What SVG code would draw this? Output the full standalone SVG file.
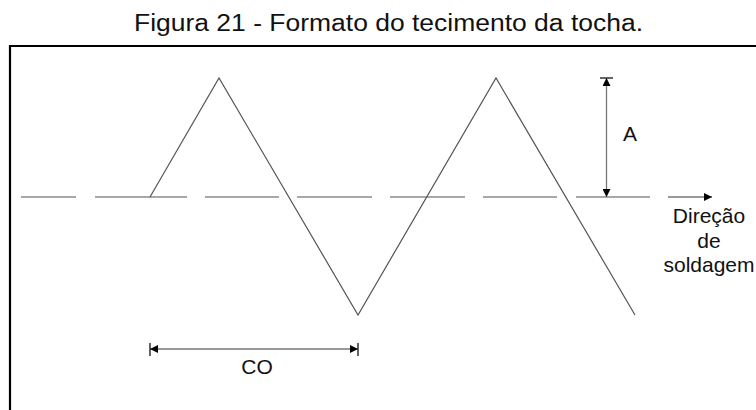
<svg xmlns="http://www.w3.org/2000/svg" width="756" height="410" viewBox="0 0 756 410">
<style>
.t{font-family:"Liberation Sans",Arial,sans-serif;fill:#111}
.lbl{font-size:21px}
.dash{stroke:#8c8c8c;stroke-width:1.4;fill:none}
.zig{stroke:#555;stroke-width:1.2;fill:none}
.dim{stroke:#777;stroke-width:1.3;fill:none}
.tick{stroke:#222;stroke-width:1.4}
</style>
<defs>
<marker id="ah" viewBox="0 0 10 10" refX="10" refY="5" markerWidth="9" markerHeight="8" markerUnits="userSpaceOnUse" orient="auto-start-reverse">
<path d="M0,0 L10,5 L0,10 Z" fill="#000"/>
</marker>
</defs>
<rect width="756" height="410" fill="#fff"/>
<text id="title" class="t" x="134" y="31" font-size="23" textLength="509" lengthAdjust="spacingAndGlyphs">Figura 21 - Formato do tecimento da tocha.</text>
<path id="frame" d="M10,411 V46 H757" stroke="#000" stroke-width="2.2" fill="none"/>
<g id="axis">
<path class="dash" d="M21,197H76 M95,197H187 M205,197H279 M297,197H372 M390,197H465 M483,197H557 M576,197H650"/>
</g>
<g id="zigzag">
<polyline class="zig" points="150,197 219,78 358,315 496,78 635,315"/>
</g>
<g id="connectors">
<line id="dir-arrow" class="dim" x1="668" y1="197" x2="712" y2="197" marker-end="url(#ah)"/>
<line id="A-arrow" class="dim" x1="606.5" y1="78" x2="606.5" y2="197" marker-start="url(#ah)" marker-end="url(#ah)"/>
<line class="tick" x1="600" y1="78" x2="613" y2="78"/>
<line id="CO-arrow" class="dim" x1="150" y1="349" x2="358" y2="349" marker-start="url(#ah)" marker-end="url(#ah)"/>
<line class="tick" x1="150" y1="343" x2="150" y2="356"/>
<line class="tick" x1="358" y1="343" x2="358" y2="356"/>
</g>
<g id="labels">
<text class="t lbl" x="623" y="141">A</text>
<text class="t lbl" x="257" y="374" text-anchor="middle">CO</text>
<text class="t lbl" text-anchor="middle"><tspan x="709" y="223">Direção</tspan><tspan x="709" y="248">de</tspan><tspan x="709" y="272">soldagem</tspan></text>
</g>
</svg>
